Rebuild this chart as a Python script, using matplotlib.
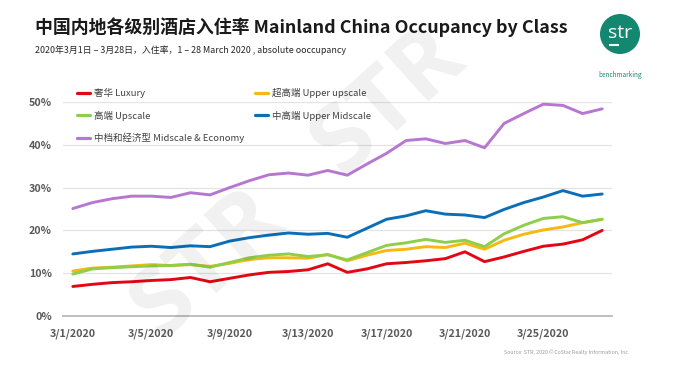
import matplotlib
matplotlib.use("Agg")
import matplotlib.pyplot as plt
import matplotlib.patches as mpatches
from matplotlib.ticker import PercentFormatter
import numpy as np

plt.rcParams['font.family'] = ['Noto Sans CJK SC', 'DejaVu Sans']

days = list(range(1, 29))
tick_days = [1, 5, 9, 13, 17, 21, 25]
tick_labels = ["3/1/2020", "3/5/2020", "3/9/2020", "3/13/2020", "3/17/2020", "3/21/2020", "3/25/2020"]

luxury = [6.9, 7.4, 7.8, 8.0, 8.3, 8.5, 9.0, 8.0, 8.8, 9.6, 10.2, 10.4, 10.8, 12.2,
          10.2, 11.0, 12.2, 12.5, 12.9, 13.4, 15.0, 12.7, 13.8, 15.1, 16.3, 16.8, 17.8, 20.0]
upper_upscale = [10.5, 11.2, 11.4, 11.7, 12.0, 11.8, 12.0, 11.6, 12.3, 13.2, 13.6, 13.6, 13.5, 14.4,
                 12.9, 14.2, 15.3, 15.6, 16.2, 16.0, 17.0, 15.6, 17.7, 19.1, 20.1, 20.8, 21.8, 22.6]
upscale = [9.8, 11.0, 11.3, 11.5, 11.7, 11.8, 12.1, 11.4, 12.5, 13.6, 14.2, 14.5, 13.9, 14.3,
           13.1, 14.8, 16.5, 17.1, 17.9, 17.2, 17.7, 16.2, 19.2, 21.2, 22.8, 23.2, 21.8, 22.6]
upper_midscale = [14.5, 15.1, 15.6, 16.1, 16.3, 16.0, 16.4, 16.2, 17.5, 18.3, 18.9, 19.4, 19.1, 19.3,
                  18.4, 20.5, 22.6, 23.4, 24.6, 23.8, 23.6, 23.0, 24.9, 26.5, 27.8, 29.3, 28.0, 28.5]
midscale_economy = [25.1, 26.5, 27.4, 28.0, 28.0, 27.7, 28.8, 28.3, 30.0, 31.6, 33.0, 33.4, 32.9, 34.0,
                    32.9, 35.5, 38.0, 41.0, 41.4, 40.3, 41.0, 39.3, 45.0, 47.3, 49.5, 49.2, 47.3, 48.4]

series = [
    ("奢华 Luxury", luxury, "#e30613"),
    ("超高端 Upper upscale", upper_upscale, "#f6b90f"),
    ("高端 Upscale", upscale, "#8fce4a"),
    ("中高端 Upper Midscale", upper_midscale, "#0b6fb8"),
    ("中档和经济型 Midscale & Economy", midscale_economy, "#b777d1"),
]

fig = plt.figure(figsize=(6.82, 3.68), dpi=100)
fig.patch.set_facecolor("white")
ax = fig.add_axes([63/682, (368-316)/368, (612-63)/682, (316-102)/368])

handles = {}
for name, vals, col in series:
    ln, = ax.plot(days, np.array(vals)/100.0, color=col, lw=2.1, solid_joinstyle='round',
                  solid_capstyle='round', label=name, zorder=3)
    handles[name] = ln

ax.set_xlim(0.5, 28.5)
ax.set_ylim(0, 0.5)
ax.set_yticks([0, 0.1, 0.2, 0.3, 0.4, 0.5])
ax.yaxis.set_major_formatter(PercentFormatter(1.0, decimals=0))
ax.set_xticks(tick_days)
ax.set_xticklabels(tick_labels)
ax.tick_params(axis='both', length=0, labelsize=7.7, labelcolor="#595959")
for lbl in ax.get_xticklabels() + ax.get_yticklabels():
    lbl.set_fontweight('semibold')
ax.tick_params(axis='y', pad=8)
ax.tick_params(axis='x', pad=9)
ax.grid(axis='y', color="#e3e3e3", lw=0.9, zorder=0)
ax.set_axisbelow(True)
for s in ["top", "right", "left"]:
    ax.spines[s].set_visible(False)
ax.spines["bottom"].set_color("#bfbfbf")
ax.spines["bottom"].set_linewidth(1.4)

order = ["奢华 Luxury", "高端 Upscale", "中档和经济型 Midscale & Economy",
         "超高端 Upper upscale", "中高端 Upper Midscale"]
leg = ax.legend([handles[n] for n in order], order, ncol=2, loc="upper left",
                bbox_to_anchor=(0.01, 1.105), frameon=False, fontsize=6.8,
                handlelength=1.4, handletextpad=0.4, columnspacing=1.1,
                labelspacing=1.3, labelcolor="#404040")
for lh in leg.get_lines():
    lh.set_linewidth(2.3)

fig.text(35/682, 1-27/368, "中国内地各级别酒店入住率 Mainland China Occupancy by Class",
         fontsize=12.9, weight='bold', color="#1a1a1a", va='center', ha='left')
fig.text(35/682, 1-50/368, "2020年3月1日 – 3月28日，入住率，1 – 28 March 2020 , absolute ooccupancy",
         fontsize=6.4, color="#262626", va='center', ha='left')

# logo
teal = "#13876f"
circ = mpatches.Ellipse((620/682, 1-34/368), 40/682, 40/368, transform=fig.transFigure,
                        facecolor=teal, edgecolor='none')
fig.patches.append(circ)
fig.text(620/682, 1-33/368, "str", color="white", fontsize=14, ha='center', va='center',
         family=['Open Sans', 'DejaVu Sans'])
fig.add_artist(plt.Line2D([610/682, 618/682], [1-45/368, 1-45/368], color='white', lw=1.5,
                          transform=fig.transFigure))
fig.text(620/682, 1-75/368, "benchmarking", color=teal, fontsize=4.6, ha='center', va='center')

# watermark
fig.text(300/682, 1-185/368, "STR   STR", rotation=42, fontsize=68, weight='bold',
         color='black', alpha=0.06, ha='center', va='center', family=['Open Sans', 'DejaVu Sans'])

fig.text(630/682, 1-352/368, "Source: STR, 2020 © CoStar Realty Information, Inc.",
         fontsize=3.8, color="#9a9a9a", ha='right', va='center')

fig.savefig("out.png", dpi=100, facecolor="white")
